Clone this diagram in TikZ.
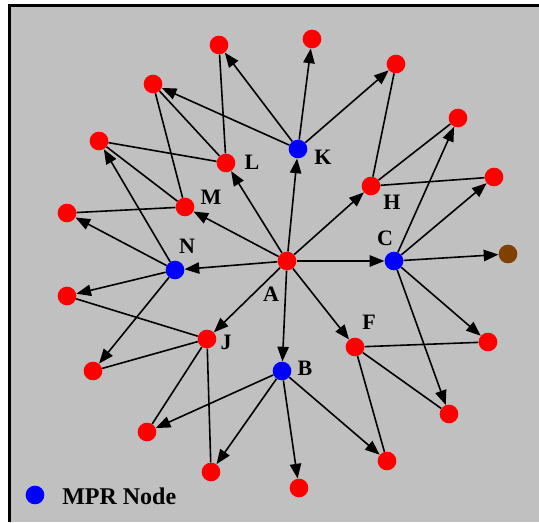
\documentclass[tikz,border=0pt]{standalone}
\usepackage{fontspec}
\newfontfamily\tagfont{Liberation Serif}[BoldFont={Liberation Serif Bold}]
\usetikzlibrary{arrows.meta}
\definecolor{panelgray}{RGB}{192,192,192}
\definecolor{nodered}{RGB}{255,0,0}
\definecolor{mprblue}{RGB}{0,0,255}
\definecolor{leafbrown}{RGB}{128,64,0}
\tikzset{
  dot/.style={circle, inner sep=0pt, minimum size=14pt, draw=none},
  plain/.style={dot, fill=nodered},
  mpr/.style={dot, fill=mprblue},
  far/.style={dot, fill=leafbrown},
  tag/.style={font=\tagfont\bfseries\fontsize{16.5}{19}\selectfont, inner sep=0pt},
  link/.style={line width=1.2pt, black},
  hop/.style={link, -{Triangle[length=11pt, width=8.5pt]}},
}
\begin{document}
\begin{tikzpicture}[x=0.75pt, y=-0.75pt]
  % page and panel
  \useasboundingbox (0,0) rectangle (539,522);
  \fill[white] (0,0) rectangle (539,522);
  \fill[panelgray] (9.5,5.5) rectangle (539,522);
  \draw[line width=2.25pt] (9.5,522) -- (9.5,5.5) -- (539,5.5);

  % source node and its one-hop neighbours
  \node[plain] (A) at (287,261) {};
  \node[mpr]   (B) at (282,371) {};
  \node[mpr]   (C) at (394,261) {};
  \node[plain] (F) at (355,347) {};
  \node[plain] (H) at (371,186) {};
  \node[mpr]   (K) at (298,149) {};
  \node[plain] (L) at (226,163) {};
  \node[plain] (M) at (185,207) {};
  \node[mpr]   (N) at (175,270) {};
  \node[plain] (J) at (207,339) {};

  % two-hop neighbours
  \node[plain] (o1)  at (219,45)  {};
  \node[plain] (o2)  at (312,39)  {};
  \node[plain] (o3)  at (396,64)  {};
  \node[plain] (o4)  at (458,118) {};
  \node[plain] (o5)  at (494,177) {};
  \node[far]   (o6)  at (508,254) {};
  \node[plain] (o7)  at (488,342) {};
  \node[plain] (o8)  at (449,414) {};
  \node[plain] (o9)  at (387,461) {};
  \node[plain] (o10) at (299,488) {};
  \node[plain] (o11) at (211,472) {};
  \node[plain] (o12) at (147,432) {};
  \node[plain] (o13) at (93,371)  {};
  \node[plain] (o14) at (67,296)  {};
  \node[plain] (o15) at (67,213)  {};
  \node[plain] (o16) at (99,141)  {};
  \node[plain] (o17) at (153,84)  {};

  % labels
  \node[tag] (tA) at (271,294) {A};
  \node[tag] (tB) at (305,368) {B};
  \node[tag] (tC) at (385,238) {C};
  \node[tag] (tF) at (369,322) {F};
  \node[tag] (tH) at (392,202) {H};
  \node[tag] (tK) at (323,157) {K};
  \node[tag] (tL) at (252,162) {L};
  \node[tag] (tM) at (211,197) {M};
  \node[tag] (tN) at (187,246) {N};
  \node[tag] (tJ) at (226,342) {J};

  % links of non-relay neighbours
  \foreach \a/\b in {L/o1, L/o16, L/o17, M/o15, M/o16, M/o17,
                     H/o3, H/o4, H/o5, F/o7, F/o8, F/o9,
                     J/o11, J/o12, J/o13, J/o14}
    \draw[link] (\a) -- (\b);

  % broadcast from the source
  \foreach \b in {K, H, C, F, B, J, N, M, L}
    \draw[hop] (A) -- (\b);

  % retransmission by relay nodes
  \foreach \a/\b in {K/o1, K/o2, K/o3, K/o17,
                     C/o4, C/o5, C/o6, C/o7, C/o8,
                     B/o9, B/o10, B/o11, B/o12,
                     N/o13, N/o14, N/o15, N/o16}
    \draw[hop] (\a) -- (\b);

  % legend
  \node[mpr] (key) at (35,495) {};
  \node[tag, font=\tagfont\bfseries\fontsize{18}{21}\selectfont, anchor=west] (keytext) at (62,496) {MPR Node};
\end{tikzpicture}
\end{document}
